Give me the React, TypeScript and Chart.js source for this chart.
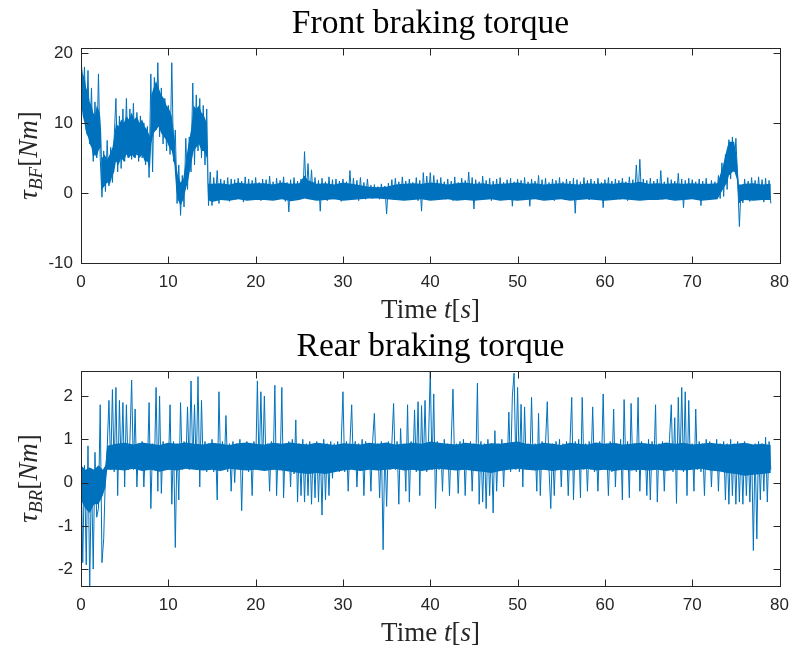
import React, { useEffect, useRef } from "react";
import { Chart, registerables } from "chart.js";

Chart.register(...registerables);

// ---------- data (sampled every 0.2 s, one array per 10 s) ----------
const SAMPLE_DT = 0.2;
const SEGMENT_LEN_S = 10;

const X_TICKS = [0, 10, 20, 30, 40, 50, 60, 70, 80];
const FRONT_Y_TICKS = [-10, 0, 10, 20];
const REAR_Y_TICKS = [-2, -1, 0, 1, 2];

const frontTorque00 = [
  20.7, 13, 18, 9, 17.5, 7, 15, 4.5, 13, 5,
  17, 5, -0.6, 6, 0.2, 7.5, 1, 6.5, 1.5, 8,
  13.5, 3, 11, 3.5, 12, 4.5, 13.5, 5, 12, 4.8,
  12.8, 5, 11.5, 4.5, 11, 5, 10, 4, 9.5, 2.2,
  17, 3, 16.5, 9, 18.6, 8, 15, 7, 13.5, 6,
];
const frontTorque10 = [
  12.5, 5.5, 18.6, 4.5, 9, -1.5, 4, -3.2, 2.5, -2,
  7.8, 0.5, 8, 3, 15.7, 4, 14, 6, 13.5, 5,
  12.5, 4, 12, -1.8, 3, -1.8, 2.2, -0.8, 3.2, -1.5,
  2.0, -1, 1.8, -0.8, 2.2, -1.2, 2, -0.6, 1.9, -0.9,
  2.1, -0.7, 1.7, -1.3, 2.3, -0.5, 2, -1, 1.8, -0.8,
];
const frontTorque20 = [
  2.2, -0.7, 1.5, -1.1, 2.0, -0.6, 1.9, -0.9, 2.4, -0.5,
  1.6, -1.0, 2.1, -0.7, 1.8, -0.8, 2.3, -1.2, 1.5, -2.7,
  1.9, -0.6, 2.2, -0.9, 1.7, -0.5, 2.0, -0.8, 5.9, -0.3,
  4.2, -0.6, 3.3, -1.0, 2.2, -0.7, 1.8, -2.6, 2.1, -0.8,
  1.6, -1.1, 2.3, -0.6, 1.9, -0.9, 2.0, -0.7, 1.7, -1.2,
];
const frontTorque30 = [
  2.0, -0.6, 1.6, -1.0, 3.2, -0.8, 2.1, -0.5, 1.8, -1.1,
  2.2, -0.7, 1.5, -0.9, 2.0, -0.6, 1.1, -0.8, 1.2, -0.5,
  0.9, -0.9, 1.3, -0.6, 1.0, -3.0, 1.4, -0.7, 1.9, -1.0,
  2.1, -0.6, 1.6, -0.9, 2.3, -0.7, 1.7, -1.0, 2.0, -0.5,
  1.5, -0.8, 2.2, -1.1, 1.8, -2.6, 2.9, -0.7, 2.4, -0.9,
];
const frontTorque40 = [
  2.9, -0.8, 2.5, -0.5, 1.9, -1.0, 2.2, -0.7, 1.6, -0.9,
  2.0, -0.6, 1.7, -1.1, 2.3, -0.8, 1.5, -0.6, 2.1, -1.0,
  1.8, -0.7, 3.0, -0.9, 2.2, -2.3, 1.9, -0.6, 1.6, -1.0,
  2.4, -0.7, 1.8, -0.8, 2.1, -1.1, 1.7, -0.6, 2.0, -0.9,
  2.2, -0.7, 1.5, -1.0, 1.9, -0.6, 2.1, -1.9, 1.6, -0.8,
];
const frontTorque50 = [
  2.0, -0.6, 1.8, -1.0, 2.2, -0.7, 1.6, -1.9, 2.0, -0.8,
  1.7, -0.6, 2.5, -1.0, 1.9, -0.7, 2.1, -0.9, 1.5, -0.6,
  2.0, -1.1, 1.8, -0.7, 2.2, -0.8, 1.6, -1.0, 2.0, -0.6,
  1.7, -0.9, 2.1, -2.9, 1.9, -0.7, 1.6, -0.8, 2.2, -0.6,
  1.8, -1.0, 2.0, -0.7, 1.7, -0.9, 2.1, -0.6, 1.5, -2.1,
];
const frontTorque60 = [
  1.9, -0.8, 2.2, -0.6, 1.7, -1.0, 2.0, -0.7, 1.8, -0.9,
  2.1, -0.6, 1.6, -1.1, 2.3, -0.7, 1.9, -0.8, 4.0, -0.6,
  4.8, -0.9, 2.0, -0.7, 1.8, -1.0, 2.1, -0.6, 1.7, -0.8,
  2.0, -0.7, 3.2, -0.9, 1.6, -0.6, 2.2, -1.0, 1.9, -0.7,
  1.7, -0.8, 2.8, -0.6, 2.0, -2.1, 1.8, -0.9, 2.1, -0.7,
];
const frontTorque70 = [
  1.9, -0.8, 1.6, -0.6, 2.0, -1.8, 1.7, -0.7, 2.1, -0.9,
  -0.6, 1.8, -0.8, 1.6, -0.7, 2.5, -0.8, 4.3, -0.5, 5.5,
  0.5, 7.6, 2.0, 8.0, 3.0, 7.8, 2.0, -4.8, 1.0, -1.4,
  2.0, -0.8, 1.7, -1.2, 2.2, -0.7, 1.8, -0.9, 2.3, -0.6,
  1.9, -1.3, 2.1, -0.8, 1.8, -1.5,
];

const rearTorque00 = [
  0.65, -1.85, 0.4, -1.9, 0.85, -2.4, 0.3, -2.0, 0.7, -0.8,
  -0.6, 1.8, -1.85, -1.3, 0.2, 0.8, 1.9, 0.3, 2.15, 0.25,
  2.2, -0.3, 1.9, 0.3, 1.85, -0.1, 1.8, 0.3, 0.95, 2.37,
  0.3, 1.7, -0.1, 0.9, 0.35, 0.95, -0.1, 0.9, 0.3, 1.85,
  -0.6, 0.9, 0.3, 2.2, -0.2, 2.0, -0.25, 0.95, 0.3, 0.9,
];
const rearTorque10 = [
  0.3, 1.8, -0.5, 0.95, -1.5, 0.9, -0.4, 1.85, 0.3, 0.95,
  0.35, 1.75, 0.3, 2.35, 0.4, 1.8, 0.3, 2.45, -0.1, 1.9,
  0.3, 0.95, 0.25, 0.9, 0.3, 1.0, 0.25, 0.9, -0.4, 2.1,
  0.3, 0.95, 0.3, 1.55, 0.25, 0.9, -0.2, 0.95, 0.0, 0.9,
  0.35, 1.0, -0.65, 0.9, 0.3, 0.95, 0.25, 0.9, -0.3, 0.95,
];
const rearTorque20 = [
  0.3, 2.35, 0.3, 2.1, 0.35, 2.0, 0.3, 0.9, -0.2, 0.95,
  0.3, 2.25, -0.3, 0.9, 0.3, 2.2, -0.35, 0.9, 0.3, 0.95,
  -0.1, 1.0, 0.2, 1.45, -0.45, 0.9, -0.3, 1.0, -0.45, 0.9,
  -0.3, 0.95, -0.5, 0.9, -0.35, 0.95, -0.45, 0.9, -0.75, 1.0,
  -0.4, 0.9, -0.3, 0.95, 0.1, 0.9, 0.3, 0.95, 0.25, 0.9,
];
const rearTorque30 = [
  2.1, 0.25, 0.95, -0.2, 0.9, 1.8, 0.3, 0.95, -0.1, 0.9,
  0.3, 1.0, -0.3, 0.95, 0.35, 0.9, -0.2, 0.95, 1.6, 0.3,
  0.9, -0.35, 0.95, -1.55, 0.9, -0.55, 0.95, 0.3, 0.9, 1.83,
  0.3, 0.95, -0.5, 1.25, 0.3, 0.9, -0.2, 1.8, -0.45, 0.95,
  0.3, 1.68, 0.25, 1.87, -0.3, 1.78, 0.3, 1.9, 0.25, 0.95,
];
const rearTorque40 = [
  2.6, 0.3, 2.05, -0.6, 0.95, 0.3, 0.9, -0.2, 1.0, 0.35,
  0.9, -0.3, 0.95, 2.16, 0.3, 0.9, -0.25, 0.95, 0.3, 1.0,
  -0.3, 0.9, 0.3, 0.95, -0.2, 0.9, 0.3, 2.3, -0.5, 0.95,
  -0.45, 0.9, -0.6, 1.0, -0.3, 0.9, -0.7, 1.2, -0.2, 0.9,
  0.3, 1.0, -0.1, 0.9, 0.3, 1.63, 0.25, 2.0, 2.53, 0.3,
];
const rearTorque50 = [
  2.2, 0.25, 1.81, -0.1, 1.75, 0.3, 0.9, 0.35, 1.97, 0.3,
  0.9, -0.2, 1.6, -0.3, 0.95, 0.3, 0.9, 1.87, 0.3, -0.6,
  0.9, -0.3, 0.95, 0.3, 1.0, -0.1, 0.9, 0.3, 0.95, -0.3,
  0.9, 1.97, -0.4, 0.95, 0.3, 1.0, -0.35, 1.97, 0.3, 0.9,
  -0.2, 0.95, 0.3, 1.75, 0.25, 0.9, -0.2, 0.95, 0.3, 2.05,
];
const rearTorque60 = [
  0.3, 0.9, -0.3, 0.95, 0.25, 1.7, -0.1, 0.9, 0.3, 1.0,
  -0.4, 1.92, 0.3, 0.95, -0.35, 1.83, 0.3, 0.9, 0.25, 1.97,
  -0.2, 0.95, 0.3, 0.9, -0.3, 1.0, -0.4, 0.95, 0.3, 1.8,
  -0.45, 0.9, 0.3, 0.95, -0.2, 0.9, 0.3, 1.0, 1.8, 0.25,
  1.5, -0.48, 1.97, 0.3, 2.2, 0.25, 2.1, -0.3, 1.9, 0.3,
];
const rearTorque70 = [
  0.9, -0.2, 1.7, 0.3, 0.95, 0.25, 0.9, -0.3, 1.0, 0.3,
  0.95, -0.1, 0.9, 0.3, 1.0, -0.2, 0.9, 0.3, 0.95, -0.4,
  0.9, -0.5, 1.0, -0.3, 0.9, -0.5, 0.95, -0.45, 0.9, -0.5,
  0.95, -0.3, 0.9, -0.45, 0.85, -1.57, 0.9, -1.3, 0.95, -0.4,
  0.9, -0.2, 1.05, -0.45, 0.95, 0.3,
];

// dense core of each trace (the part that renders solid), as knots
const frontCoreTime = [
  0, 0.2, 0.4, 0.6, 0.8, 1.0, 1.2, 1.4, 1.6, 1.8,
  2.0, 2.2, 2.3, 2.4, 2.7, 3.0, 3.3, 3.6, 3.8, 4.0,
  4.3, 4.6, 4.9, 5.2, 5.5, 5.8, 6.1, 6.4, 6.7, 7.0,
  7.3, 7.6, 7.9, 8.05, 8.3, 8.6, 8.9, 9.2, 9.5, 9.8,
  10.1, 10.4, 10.7, 10.9, 11.1, 11.4, 11.7, 12.0, 12.3, 12.6,
  12.9, 13.2, 13.5, 13.8, 14.1, 14.4, 14.55, 15, 16, 17,
  18, 19, 20, 21, 22, 23, 24, 25, 25.6, 26,
  26.5, 27, 28, 29, 30, 31, 32, 33, 34, 35,
  36, 37, 38, 39, 40, 41, 42, 43, 44, 45,
  46, 47, 48, 49, 50, 51, 52, 53, 54, 55,
  56, 57, 58, 59, 60, 61, 62, 63, 64, 65,
  66, 67, 68, 69, 70, 71, 72, 72.9, 73.5, 74.0,
  74.2, 74.8, 75.1, 75.35, 75.6, 76, 77, 78, 79,
];
const frontCoreLow = [
  13, 11, 10, 8.5, 8, 7, 6.5, 5, 5.5, 5,
  6, 6.5, 5, 0.5, 1, 1.5, 1.2, 2.5, 3, 4.5,
  4, 5, 4.5, 5.5, 5, 5.5, 5, 5.5, 5, 5.5,
  4.5, 4.5, 3.5, 7, 8.5, 9, 9.5, 8.5, 8, 7.5,
  6.5, 6, 4, 0.5, -1, -1.8, -1, 0.5, 2, 4,
  6, 6.5, 7, 6, 6, 5, -1, -1.3, -1.0, -1.1,
  -0.9, -1.1, -1.0, -1.0, -1.1, -0.9, -1.2, -1.0, -0.8, -0.9,
  -1.0, -1.1, -1.0, -0.9, -1.1, -1.0, -0.9, -0.8, -0.8, -0.9,
  -1.0, -1.1, -1.0, -0.9, -1.1, -1.0, -0.9, -1.1, -1.0, -1.1,
  -1.0, -0.9, -1.1, -1.0, -1.1, -1.0, -0.9, -1.1, -1.0, -0.9,
  -1.1, -1.0, -0.9, -1.0, -1.1, -1.0, -0.9, -1.0, -1.1, -1.0,
  -1.0, -0.9, -1.1, -1.0, -0.9, -1.1, -1.0, -0.9, 0.5, 1.5,
  2.5, 3.2, 2, -1.5, -1.2, -1.0, -1.1, -1.0, -1.0,
];
const frontCoreHigh = [
  19, 17, 16.5, 15, 14.5, 13, 12.5, 11.5, 11, 12.5,
  12, 11, 9, 5, 5.5, 4.8, 5.5, 6.5, 8, 10,
  9.5, 10.5, 10, 11, 10.5, 11.5, 10.5, 11, 10, 10.5,
  9.5, 9, 8, 14, 15, 16, 15, 14, 13.5, 12.5,
  12, 11, 8, 4, 2.5, 1.5, 2, 4.5, 7, 9,
  12.5, 12, 12.5, 11.5, 11, 10, 1.3, 1.3, 1.4, 1.2,
  1.5, 1.3, 1.4, 1.4, 1.2, 1.5, 1.3, 1.4, 2.5, 1.8,
  1.6, 1.3, 1.4, 1.2, 1.5, 1.3, 1.1, 0.9, 0.8, 0.9,
  1.2, 1.3, 1.4, 1.3, 1.5, 1.4, 1.2, 1.4, 1.5, 1.3,
  1.4, 1.2, 1.3, 1.4, 1.5, 1.3, 1.4, 1.2, 1.3, 1.4,
  1.3, 1.2, 1.4, 1.3, 1.4, 1.3, 1.5, 1.4, 1.6, 1.3,
  1.4, 1.3, 1.4, 1.3, 1.4, 1.3, 1.3, 1.4, 3.8, 6.5,
  7.3, 7.3, 5, 1.2, 1.2, 1.3, 1.4, 1.2, 1.3,
];

const rearCoreTime = [
  0, 0.5, 1, 1.5, 2, 2.5, 2.8, 3,
  4, 5, 6, 7, 8, 9, 10, 11, 12, 13,
  14, 15, 16, 17, 18, 19, 20, 21, 22, 23,
  24, 25, 26, 27, 28, 29, 30, 31, 32, 33,
  34, 35, 36, 37, 38, 39, 40, 41, 42, 43,
  44, 45, 46, 47, 48, 49, 50, 51, 52, 53,
  54, 55, 56, 57, 58, 59, 60, 61, 62, 63,
  64, 65, 66, 67, 68, 69, 70, 71, 72, 73,
  74, 75, 76, 77, 78, 79,
];
const rearCoreLow = [
  -0.4, -0.6, -0.7, -0.5, -0.5, -0.3, -0.1, 0.3,
  0.3, 0.28, 0.32, 0.27, 0.3, 0.25, 0.3, 0.28, 0.32, 0.3,
  0.28, 0.3, 0.27, 0.32, 0.3, 0.28, 0.3, 0.27, 0.3, 0.28,
  0.25, 0.22, 0.2, 0.22, 0.2, 0.24, 0.28, 0.3, 0.27, 0.3,
  0.28, 0.3, 0.32, 0.28, 0.3, 0.27, 0.3, 0.32, 0.3, 0.28,
  0.3, 0.27, 0.25, 0.22, 0.27, 0.3, 0.32, 0.3, 0.28, 0.3,
  0.27, 0.3, 0.28, 0.3, 0.32, 0.28, 0.3, 0.27, 0.3, 0.28,
  0.3, 0.28, 0.3, 0.27, 0.3, 0.28, 0.3, 0.32, 0.28, 0.26,
  0.22, 0.2, 0.16, 0.18, 0.2, 0.22,
];
const rearCoreHigh = [
  0.4, 0.3, 0.35, 0.3, 0.4, 0.3, 0.4, 0.85,
  0.9, 0.92, 0.88, 0.93, 0.9, 0.87, 0.92, 0.9, 0.93, 0.9,
  0.88, 0.92, 0.9, 0.87, 0.91, 0.93, 0.9, 0.88, 0.92, 0.9,
  0.93, 0.9, 0.88, 0.92, 0.9, 0.87, 0.91, 0.9, 0.88, 0.92,
  0.9, 0.93, 0.88, 0.9, 0.92, 0.9, 0.95, 0.92, 0.9, 0.88,
  0.92, 0.9, 0.88, 0.91, 0.9, 0.93, 0.95, 0.9, 0.88, 0.92,
  0.9, 0.87, 0.92, 0.9, 0.88, 0.93, 0.9, 0.92, 0.88, 0.9,
  0.92, 0.9, 0.88, 0.93, 0.9, 0.92, 0.88, 0.9, 0.92, 0.9,
  0.88, 0.9, 0.92, 0.88, 0.9, 0.87,
];

const FRONT_SEGMENTS = [
  frontTorque00, frontTorque10, frontTorque20, frontTorque30,
  frontTorque40, frontTorque50, frontTorque60, frontTorque70,
];
const REAR_SEGMENTS = [
  rearTorque00, rearTorque10, rearTorque20, rearTorque30,
  rearTorque40, rearTorque50, rearTorque60, rearTorque70,
];

// ---------- helpers ----------
function toPoints(segments: number[][]) {
  const pts: { x: number; y: number }[] = [];
  segments.forEach((seg, k) => {
    seg.forEach((v, i) => {
      pts.push({ x: Math.round((k * SEGMENT_LEN_S + i * SAMPLE_DT) * 100) / 100, y: v });
    });
  });
  return pts;
}
function zipPoints(xs: number[], ys: number[]) {
  return xs.map((x, i) => ({ x, y: ys[i] }));
}

type Part = { t: string; f: string; dy?: number };

function drawParts(ctx: CanvasRenderingContext2D, parts: Part[], cx: number, y: number) {
  let total = 0;
  const widths = parts.map((p) => {
    ctx.font = p.f;
    const w = ctx.measureText(p.t).width;
    total += w;
    return w;
  });
  let x = cx - total / 2;
  ctx.textAlign = "left";
  ctx.textBaseline = "alphabetic";
  parts.forEach((p, i) => {
    ctx.font = p.f;
    ctx.fillText(p.t, x, y + (p.dy || 0));
    x += widths[i];
  });
}

const SERIF = '"Liberation Serif", "Times New Roman", serif';
const SANS = '"Liberation Sans", Arial, Helvetica, sans-serif';
const AXIS_COLOR = "#262626";
const LINE_COLOR = "#0072BD";

function makeFramePlugin(title: string, sub: string) {
  return {
    id: "matlabFrame",
    afterDraw(chart: any) {
      const { ctx, chartArea: a, scales } = chart;
      const L = Math.round(a.left);
      const R = Math.round(a.right);
      const T = Math.round(a.top);
      const B = Math.round(a.bottom);
      ctx.save();
      ctx.strokeStyle = AXIS_COLOR;
      ctx.lineWidth = 1;
      ctx.strokeRect(L + 0.5, T + 0.5, R - L, B - T);
      const tl = 7;
      ctx.beginPath();
      scales.x.ticks.forEach((tk: any) => {
        const px = Math.round(scales.x.getPixelForValue(tk.value)) + 0.5;
        ctx.moveTo(px, B + 0.5);
        ctx.lineTo(px, B + 0.5 - tl);
        ctx.moveTo(px, T + 0.5);
        ctx.lineTo(px, T + 0.5 + tl);
      });
      scales.y.ticks.forEach((tk: any) => {
        const py = Math.round(scales.y.getPixelForValue(tk.value)) + 0.5;
        ctx.moveTo(L + 0.5, py);
        ctx.lineTo(L + 0.5 + tl, py);
        ctx.moveTo(R + 0.5, py);
        ctx.lineTo(R + 0.5 - tl, py);
      });
      ctx.stroke();

      // title
      ctx.fillStyle = "#000000";
      ctx.font = `33.5px ${SERIF}`;
      ctx.textAlign = "center";
      ctx.textBaseline = "alphabetic";
      ctx.fillText(title, (L + R) / 2, T - 15);

      // x label
      ctx.fillStyle = AXIS_COLOR;
      const n = `27px ${SERIF}`;
      const it = `italic 27px ${SERIF}`;
      drawParts(
        ctx,
        [
          { t: "Time ", f: n },
          { t: "t", f: it },
          { t: "[", f: n },
          { t: "s", f: it },
          { t: "]", f: n },
        ],
        (L + R) / 2,
        B + 55
      );

      // y label (rotated)
      ctx.save();
      ctx.translate(37, (T + B) / 2);
      ctx.rotate(-Math.PI / 2);
      drawParts(
        ctx,
        [
          { t: "\u03C4", f: it },
          { t: sub, f: `italic 19px ${SERIF}`, dy: 5 },
          { t: "[", f: n },
          { t: "N", f: it },
          { t: "m", f: it },
          { t: "]", f: n },
        ],
        0,
        0
      );
      ctx.restore();
      ctx.restore();
    },
  };
}

type PanelProps = {
  segments: number[][];
  coreTime: number[];
  coreLow: number[];
  coreHigh: number[];
  yMin: number;
  yMax: number;
  yTicks: number[];
  title: string;
  sub: string;
  height: number;
  padTop: number;
  xAxisH: number;
};

function Panel(props: PanelProps) {
  const ref = useRef<HTMLCanvasElement>(null);
  useEffect(() => {
    const canvas = ref.current!;
    const tickFont = { family: SANS, size: 17 };
    const chart = new Chart(canvas, {
      type: "line",
      data: {
        datasets: [
          {
            data: zipPoints(props.coreTime, props.coreLow),
            borderWidth: 0,
            borderColor: "rgba(0,0,0,0)",
            pointRadius: 0,
            fill: false,
          },
          {
            data: zipPoints(props.coreTime, props.coreHigh),
            borderWidth: 0,
            borderColor: "rgba(0,0,0,0)",
            backgroundColor: LINE_COLOR,
            pointRadius: 0,
            fill: "-1",
          },
          {
            data: toPoints(props.segments),
            borderColor: LINE_COLOR,
            borderWidth: 1,
            pointRadius: 0,
            tension: 0,
            fill: false,
          },
        ],
      },
      options: {
        animation: false,
        responsive: false,
        devicePixelRatio: 1,
        parsing: false,
        normalized: true,
        events: [],
        layout: { padding: { top: props.padTop, right: 14, left: 0, bottom: 0 } },
        plugins: {
          legend: { display: false },
          tooltip: { enabled: false },
          title: { display: false },
        },
        scales: {
          x: {
            type: "linear",
            min: 0,
            max: 80,
            grid: { display: false, drawTicks: false },
            border: { display: false },
            ticks: {
              font: tickFont,
              color: AXIS_COLOR,
              padding: 9,
              maxRotation: 0,
              autoSkip: false,
            },
            afterBuildTicks: (s: any) => {
              s.ticks = X_TICKS.map((v) => ({ value: v }));
            },
            afterFit: (s: any) => {
              s.height = props.xAxisH;
            },
          },
          y: {
            type: "linear",
            min: props.yMin,
            max: props.yMax,
            grid: { display: false, drawTicks: false },
            border: { display: false },
            ticks: {
              font: tickFont,
              color: AXIS_COLOR,
              padding: 8,
              autoSkip: false,
            },
            afterBuildTicks: (s: any) => {
              s.ticks = props.yTicks.map((v) => ({ value: v }));
            },
            afterFit: (s: any) => {
              s.width = 81;
            },
          },
        },
      } as any,
      plugins: [makeFramePlugin(props.title, props.sub)],
    });
    return () => chart.destroy();
  }, []);
  return (
    <canvas
      ref={ref}
      width={798}
      height={props.height}
      style={{ display: "block", width: 798, height: props.height }}
    />
  );
}

export default function App() {
  return (
    <div
      style={{
        position: "fixed",
        left: 0,
        top: 0,
        width: 798,
        height: 651,
        background: "#ffffff",
        overflow: "hidden",
      }}
    >
      <Panel
        segments={FRONT_SEGMENTS}
        coreTime={frontCoreTime}
        coreLow={frontCoreLow}
        coreHigh={frontCoreHigh}
        yMin={-10}
        yMax={20.7}
        yTicks={FRONT_Y_TICKS}
        title="Front braking torque"
        sub="BF"
        height={330}
        padTop={48}
        xAxisH={67}
      />
      <Panel
        segments={REAR_SEGMENTS}
        coreTime={rearCoreTime}
        coreLow={rearCoreLow}
        coreHigh={rearCoreHigh}
        yMin={-2.39}
        yMax={2.58}
        yTicks={REAR_Y_TICKS}
        title="Rear braking torque"
        sub="BR"
        height={321}
        padTop={41}
        xAxisH={65}
      />
    </div>
  );
}
